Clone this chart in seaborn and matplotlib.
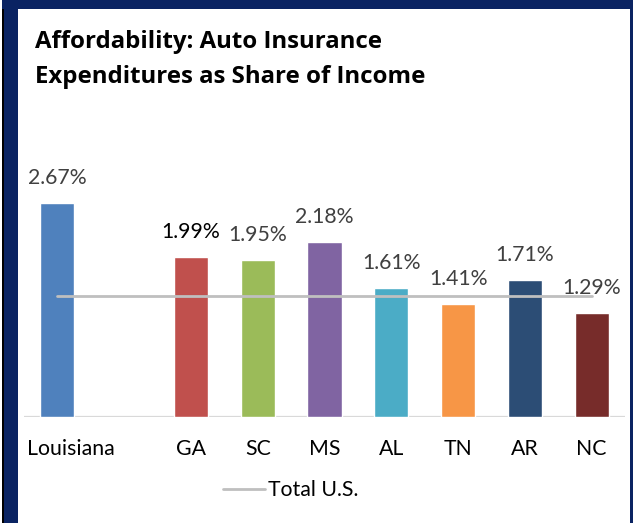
import matplotlib
matplotlib.use("Agg")
import matplotlib.pyplot as plt
import matplotlib.transforms as mtransforms
from matplotlib.patches import Rectangle
import seaborn as sns
import pandas as pd

# ---- data ----
states = ["Louisiana", "GA", "SC", "MS", "AL", "TN", "AR", "NC"]
share = [2.67, 1.99, 1.95, 2.18, 1.61, 1.41, 1.71, 1.29]
share_labels = ["2.67%", "1.99%", "1.95%", "2.18%", "1.61%", "1.41%", "1.71%", "1.29%"]
category_order = ["Louisiana", " ", "GA", "SC", "MS", "AL", "TN", "AR", "NC"]
total_us = [1.50, 1.50, 1.50, 1.50, 1.50, 1.50, 1.50, 1.50, 1.50]
bar_colors = ["#4F81BD", "#C0504D", "#9BBB59", "#8064A2", "#4BACC6", "#F79646", "#2C4D75", "#772C2A"]
title_lines = ["Affordability: Auto Insurance", "Expenditures as Share of Income"]

sns.set_theme(style="white")
plt.rcParams["font.family"] = ["Lato", "DejaVu Sans"]

W, H = 633, 523
fig = plt.figure(figsize=(W / 100, H / 100), dpi=100)
fig.patch.set_facecolor("white")

# axes placement (pixels)
ax_left, ax_right = 24, 625
ax_base, ax_top = 416.7, 140
px_per_unit = 80.15
ax = fig.add_axes([ax_left / W, (H - ax_base) / H, (ax_right - ax_left) / W, (ax_base - ax_top) / H])

df = pd.DataFrame({"state": states, "share": share})
palette = dict(zip(states, bar_colors))
sns.barplot(data=df, x="state", y="share", hue="state", palette=palette, order=category_order,
            hue_order=states, width=0.51, saturation=1, legend=False, ax=ax, errorbar=None)

line_df = pd.DataFrame({"pos": [category_order.index(c) for c in category_order], "val": total_us})
sns.lineplot(data=line_df, x="pos", y="val", color="#BFBFBF", linewidth=2.0, ax=ax, label="Total U.S.")

ax.set_xlim(-0.5, len(category_order) - 0.5)
ax.set_ylim(0, (ax_base - ax_top) / px_per_unit)
ax.axhline(0, color="#D9D9D9", linewidth=1.6, zorder=0.5)
for s in ax.spines.values():
    s.set_visible(False)
ax.set_yticks([])
ax.set_xlabel("")
ax.set_ylabel("")
ax.set_facecolor("white")

LBL = 15.3
ax.set_xticks(range(len(category_order)))
ax.set_xticklabels(category_order)
ax.tick_params(axis="x", length=0, pad=16.0, labelsize=LBL, labelcolor="black")
lab0 = ax.get_xticklabels()[0]
lab0.set_horizontalalignment("left")
lab0.set_transform(lab0.get_transform() + mtransforms.ScaledTranslation(-30 / 100, 0, fig.dpi_scale_trans))

# data labels
for st, v, txt in zip(states, share, share_labels):
    xpos = category_order.index(st)
    col = "black" if txt == "1.99%" else "#404040"
    ax.annotate(txt, (xpos, v), xytext=(0, 19 * 0.72), textcoords="offset points",
                ha="center", va="baseline", fontsize=LBL, color=col, annotation_clip=False)

# legend
leg = ax.legend(loc="center left", bbox_to_anchor=(223 / W, 1 - 490 / H), bbox_transform=fig.transFigure,
                frameon=False, fontsize=LBL, handlelength=42 / (LBL / 0.72), handletextpad=0.15,
                borderpad=0, borderaxespad=0)
for t in leg.get_texts():
    t.set_color("black")

# title
for txt, yb in zip(title_lines, [48.5, 83]):
    fig.text(35 / W, 1 - yb / H, txt, fontsize=17.3, fontweight="bold", color="black",
             ha="left", va="baseline", family=["Open Sans", "DejaVu Sans"])

# border
navy = "#0A2362"
fig.add_artist(Rectangle((2 / W, 0), 2 / W, 1, transform=fig.transFigure, color="black", lw=0))
fig.add_artist(Rectangle((4 / W, 0), 13.5 / W, 1, transform=fig.transFigure, color=navy, lw=0))
fig.add_artist(Rectangle((2 / W, 1 - 8.7 / H), 1, 8.7 / H, transform=fig.transFigure, color=navy, lw=0))
fig.add_artist(Rectangle((630 / W, 0), 3 / W, 1, transform=fig.transFigure, color=navy, lw=0))

fig.savefig("out.png", dpi=100)
